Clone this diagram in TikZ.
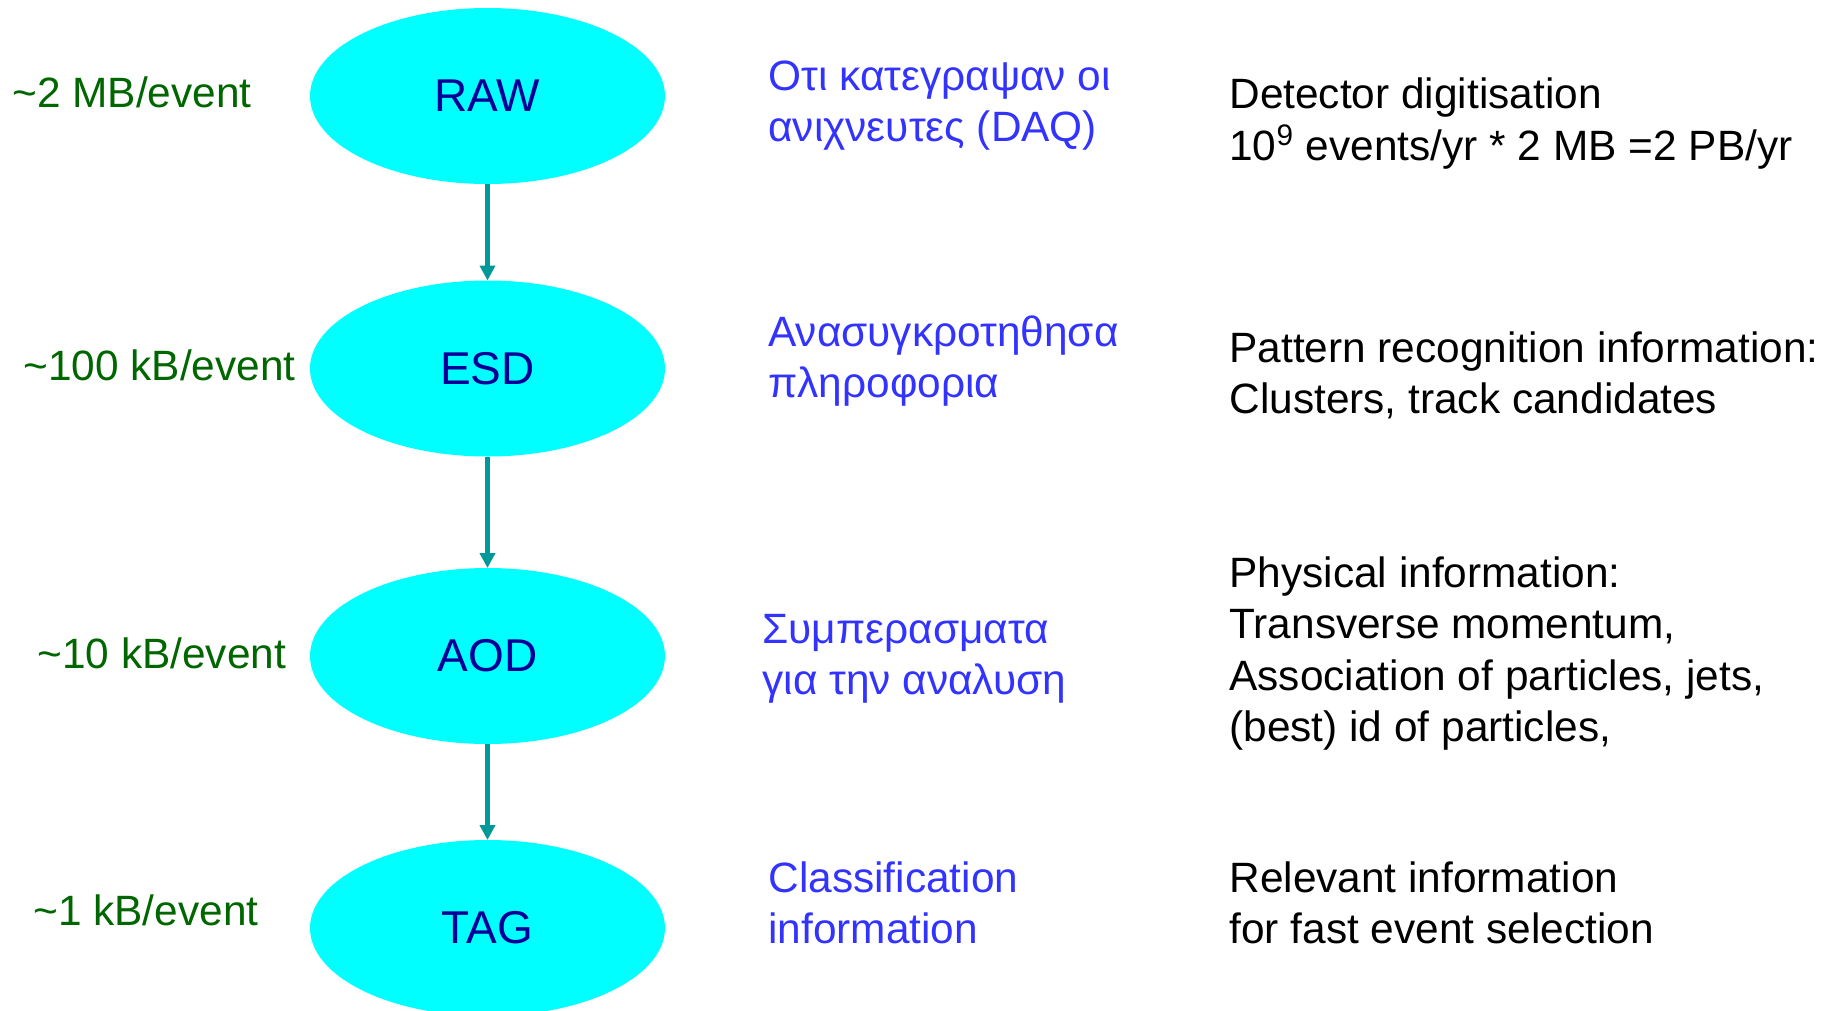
\documentclass[tikz,border=0pt]{standalone}
\usepackage{fontspec}
\setmainfont{Liberation Sans}
\usetikzlibrary{shapes.geometric,arrows.meta}
\definecolor{blobfill}{HTML}{00FFFF}
\definecolor{blobtext}{HTML}{000099}
\definecolor{sizegreen}{HTML}{006600}
\definecolor{greekblue}{HTML}{3333FF}
\definecolor{flowteal}{HTML}{009999}
\tikzset{
  datablob/.style={ellipse, fill=blobfill, draw=none, inner sep=0pt, outer sep=0pt,
    minimum width=177.5pt, minimum height=88pt, text=blobtext,
    font=\fontsize{23}{27.6}\selectfont},
  sizelabel/.style={anchor=base west, inner sep=0pt, text=sizegreen,
    font=\fontsize{21.2}{25.75}\selectfont},
  greeklabel/.style={anchor=base west, inner sep=0pt, text=greekblue, align=left,
    font=\fontsize{21.2}{25.75}\selectfont},
  infolabel/.style={anchor=base west, inner sep=0pt, text=black, align=left,
    font=\fontsize{21.2}{25.75}\selectfont},
  flow/.style={draw=flowteal, line width=2.85pt,
    -{Triangle[length=7.5pt,width=7.5pt]}}
}
\begin{document}
\begin{tikzpicture}[x=0.5pt,y=-0.5pt]
\useasboundingbox (0,0) rectangle (1835,1011);

\node[datablob] (raw) at (487.5,96) {RAW};
\node[datablob] (esd) at (487.5,368.5) {ESD};
\node[datablob] (aod) at (487.5,656) {AOD};
\node[datablob] (tag) at (487.5,928) {TAG};

\draw[flow] (raw.south) -- (esd.north);
\draw[flow] (esd.south) -- (aod.north);
\draw[flow] (aod.south) -- (tag.north);

\node[sizelabel] (s1) at (12,108) {\textasciitilde2 MB/event};
\node[sizelabel] (s2) at (23,380) {\textasciitilde100 kB/event};
\node[sizelabel] (s3) at (37,668) {\textasciitilde10 kB/event};
\node[sizelabel] (s4) at (33,925) {\textasciitilde1 kB/event};

% multi-line nodes: base anchor is the baseline of the last line
\node[greeklabel] (g1) at (768,141.5) {Οτι κατεγραψαν οι\\ανιχνευτες (DAQ)};
\node[greeklabel] (g2) at (768,397.5) {Ανασυγκροτηθησα\\πληροφορια};
\node[greeklabel] (g3) at (762,694.5) {Συμπερασματα\\για την αναλυση};
\node[greeklabel] (g4) at (768,943.5) {Classification\\information};

\node[infolabel] (i1) at (1229,160.5) {Detector digitisation\\10\textsuperscript{9} events/yr * 2 MB =2 PB/yr};
\node[infolabel] (i2) at (1229,413.5) {Pattern recognition information:\\Clusters, track candidates};
\node[infolabel] (i3) at (1229,741.5) {Physical information:\\Transverse momentum,\\Association of particles, jets,\\(best) id of particles,};
\node[infolabel] (i4) at (1229,943.5) {Relevant information\\for fast event selection};
\end{tikzpicture}
\end{document}
